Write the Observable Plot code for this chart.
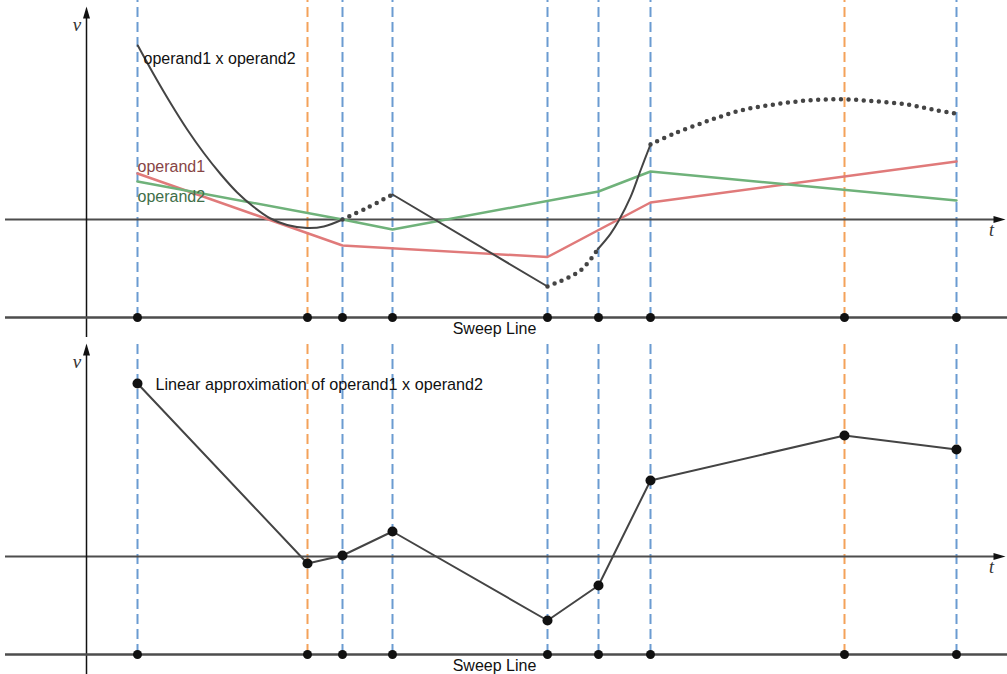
<!DOCTYPE html>
<html>
<head>
<meta charset="utf-8">
<script src="https://cdn.jsdelivr.net/npm/d3@7"></script>
<script src="https://cdn.jsdelivr.net/npm/@observablehq/plot@0.6"></script>
<style>
  html, body { margin: 0; padding: 0; background: #fff; }
  #chart svg { display: block; }
</style>
</head>
<body>
<div id="chart"></div>
<script>
// ---- data (t = time along sweep, v = value) ----
const eventT    = [5.1, 22.1, 25.6, 30.6, 46.1, 51.2, 56.4, 75.8, 87.0];
const eventKind = ["end", "extremum", "end", "end", "end", "end", "end", "extremum", "end"];

const operand1T = [5.1, 25.6, 46.1, 56.4, 87.0];
const operand1V = [4.6, -2.6, -3.75, 1.7, 5.8];

const operand2T = [5.1, 25.6, 30.6, 51.2, 56.4, 87.0];
const operand2V = [3.8, 0.0, -1.0, 2.8, 4.8, 1.9];

// product operand1 x operand2, read piecewise
const prod1T = [5.13, 6.73, 8.4, 10.07, 11.73, 13.4, 15.07, 16.73, 18.4, 20.07, 22.07, 23.73, 25.6];
const prod1V = [17.4, 14.5, 11.65, 9.0, 6.65, 4.55, 2.7, 1.25, 0.1, -0.55, -0.85, -0.7, 0.0];
const prod2T = [25.6, 28.13, 30.6];            // dotted
const prod2V = [0.0, 1.2, 2.5];
const prod3T = [30.6, 46.1];
const prod3V = [2.5, -6.7];
const prod4T = [46.1, 46.9, 47.7, 48.6, 49.4, 50.2, 51.1];   // dotted
const prod4V = [-6.7, -6.35, -6.03, -5.6, -5.1, -4.27, -3.0];
const prod5T = [51.1, 52.4, 53.23, 54.4, 55.4, 56.4];
const prod5V = [-3.0, -1.43, -0.1, 2.23, 4.9, 7.5];
const prod6T = [56.4, 58.73, 62.07, 65.4, 68.73, 72.07, 75.4, 78.73, 82.07, 84.73, 87.0]; // dotted
const prod6V = [7.5, 8.57, 9.83, 10.9, 11.5, 11.9, 12.03, 11.83, 11.5, 10.97, 10.57];

// linear approximation at the sweep events
const approxT = [5.1, 22.1, 25.6, 30.6, 46.1, 51.2, 56.4, 75.8, 87.0];
const approxV = [17.3, -0.7, 0.1, 2.5, -6.4, -2.9, 7.6, 12.1, 10.7];

// ---- build tables ----
const events = eventT.map((t, i) => ({t, kind: eventKind[i]}));
const op1 = operand1T.map((t, i) => ({t, v: operand1V[i]}));
const op2 = operand2T.map((t, i) => ({t, v: operand2V[i]}));
const segs = [[prod1T, prod1V, "solid"], [prod2T, prod2V, "dotted"], [prod3T, prod3V, "solid"],
              [prod4T, prod4V, "dotted"], [prod5T, prod5V, "solid"], [prod6T, prod6V, "dotted"]];
const prod = segs.flatMap(([T, V, style], s) => T.map((t, i) => ({t, v: V[i], seg: s, style})));
const approx = approxT.map((t, i) => ({t, v: approxV[i]}));

const T_DOMAIN = [-8.6, 92.1];
const V_DOMAIN = [-11.8, 21.9];
const SWEEP_V = -9.8;
const BLUE = "#6b9bd1", ORANGE = "#f4a25a", AXIS = "#4d4d4d", INK = "#111";
const FONT = "Liberation Sans, Arial, sans-serif";
const SERIF = "Liberation Serif, DejaVu Serif, serif";

const arrowHead = {
  draw(ctx) { ctx.moveTo(0, 0); ctx.lineTo(3.5, 12); ctx.lineTo(-3.5, 12); ctx.closePath(); }
};

function frameMarks(dashTop) {
  return [
    Plot.ruleX(events, {x: "t", y1: SWEEP_V, y2: dashTop,
      stroke: d => d.kind === "extremum" ? ORANGE : BLUE,
      strokeWidth: 2, strokeDasharray: "10,5"}),
    Plot.ruleY([0], {x1: -8.1, x2: 91, stroke: AXIS, strokeWidth: 2}),
    Plot.ruleX([0], {y1: V_DOMAIN[0], y2: 20.2, stroke: INK, strokeWidth: 1.5}),
    Plot.dot([{t: 0, v: 21.3}], {x: "t", y: "v", symbol: arrowHead, fill: INK, stroke: null}),
    Plot.dot([{t: 91.9, v: 0}], {x: "t", y: "v", symbol: arrowHead, rotate: 90, fill: INK, stroke: null}),
    Plot.text(["v"], {x: -0.95, y: 18.85, text: d => d, fontFamily: SERIF, fontStyle: "italic",
      fontSize: 19, fill: "#333", textAnchor: "middle", lineAnchor: "bottom"}),
    Plot.text(["t"], {x: 90.5, y: -1.6, text: d => d, fontFamily: SERIF, fontStyle: "italic",
      fontSize: 18, fill: "#333", textAnchor: "middle", lineAnchor: "bottom"}),
    Plot.ruleY([SWEEP_V], {x1: -8.1, x2: 92.1, stroke: AXIS, strokeWidth: 2.5}),
    Plot.text(["Sweep Line"], {x: 40.8, y: -11.4, text: d => d, fontFamily: FONT, fontSize: 16,
      fill: INK, textAnchor: "middle", lineAnchor: "bottom"})
  ];
}

const common = {
  width: 1007, height: 337, margin: 0,
  x: {domain: T_DOMAIN, axis: null},
  y: {domain: V_DOMAIN, axis: null},
  style: {background: "#fff", overflow: "visible"}
};

const topPanel = Plot.plot({
  ...common,
  marks: [
    ...frameMarks(21.9),
    Plot.line(op1, {x: "t", y: "v", stroke: "#e07a7a", strokeWidth: 2.5}),
    Plot.line(op2, {x: "t", y: "v", stroke: "#6fb27a", strokeWidth: 2.5}),
    Plot.line(prod.filter(d => d.style === "solid"), {x: "t", y: "v", z: "seg",
      stroke: "#444", strokeWidth: 2, curve: "catmull-rom"}),
    Plot.line(prod.filter(d => d.style === "dotted"), {x: "t", y: "v", z: "seg",
      stroke: "#444", strokeWidth: 4.5, strokeDasharray: "0,7.6", strokeLinecap: "round",
      curve: "catmull-rom"}),
    Plot.text(["operand1 x operand2"], {x: 5.7, y: 15.6, text: d => d, fontFamily: FONT,
      fontSize: 16, fill: INK, textAnchor: "start", lineAnchor: "bottom"}),
    Plot.text(["operand1"], {x: 5.1, y: 4.73, text: d => d, fontFamily: FONT,
      fontSize: 16, fill: "#874545", textAnchor: "start", lineAnchor: "bottom"}),
    Plot.text(["operand2"], {x: 5.1, y: 1.73, text: d => d, fontFamily: FONT,
      fontSize: 16, fill: "#3f6e48", textAnchor: "start", lineAnchor: "bottom"}),
    Plot.dot(events, {x: "t", y: SWEEP_V, r: 4.5, fill: INK, stroke: null})
  ]
});

const bottomPanel = Plot.plot({
  ...common,
  marks: [
    ...frameMarks(21.3),
    Plot.line(approx, {x: "t", y: "v", stroke: "#444", strokeWidth: 2}),
    Plot.dot(approx, {x: "t", y: "v", r: 5, fill: INK, stroke: null}),
    Plot.text(["Linear approximation of operand1 x operand2"], {x: 6.9, y: 16.7, text: d => d,
      fontFamily: FONT, fontSize: 16.2, fill: INK, textAnchor: "start", lineAnchor: "bottom"}),
    Plot.dot(events, {x: "t", y: SWEEP_V, r: 4.5, fill: INK, stroke: null})
  ]
});

const chart = document.getElementById("chart");
chart.appendChild(topPanel);
chart.appendChild(bottomPanel);
</script>
</body>
</html>
